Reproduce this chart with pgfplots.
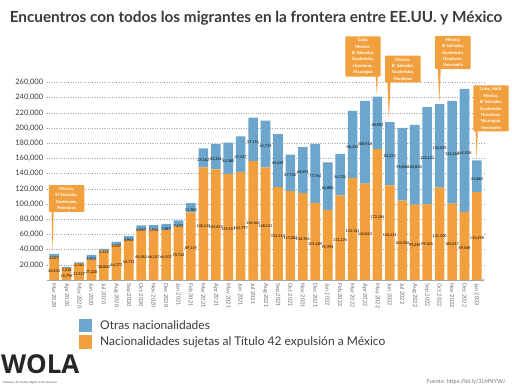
\documentclass[border=0pt]{standalone}
\usepackage{pgfplots}
\usepackage{pgfplotstable}
\pgfplotsset{compat=1.18}
\usepackage{fontspec}
\setmainfont{Lato}
\newfontfamily\logofont{Open Sans}
\definecolor{barblue}{HTML}{6CA6CD}
\definecolor{barorange}{HTML}{F2A03D}
\definecolor{txt}{HTML}{3A3A3A}

\pgfplotstableread{
x orange blue
0 30433 4027
1 15796 1310
2 21927 1310
3 27228 5821
4 38800 2129
5 46377 3637
6 52711 4963
7 65862 6067
8 66157 5956
9 66107 7887
10 70742 7672
11 89119 11980
12 148115 25162
13 145459 33336
14 139517 41080
15 141797 47237
16 156442 57151
17 148121 61719
18 122314 69687
19 117082 47755
20 114354 60491
21 101489 77764
22 91994 62880
23 111276 54734
24 134141 88433
25 126867 108918
26 172184 68952
27 124611 83223
28 104356 95806
29 99249 104838
30 99425 128122
31 121500 110029
32 100517 135268
33 89549 161938
34 115498 41860
}\data

\tikzset{callout/.style={fill=barorange, text=white, font=\fontsize{4.3}{6.4}\selectfont\bfseries, align=center, minimum width=32pt, text width=31pt, inner sep=2.2pt, rounded corners=0.8pt}}

\begin{document}
\begin{tikzpicture}[x=1pt,y=1pt]
\useasboundingbox (0,0) rectangle (512,384);
\node[text=txt, font=\fontsize{15.3}{17}\selectfont\bfseries] at (256,366) {Encuentros con todos los migrantes en la frontera entre EE.UU. y México};
\begin{axis}[
  at={(46.7pt,104pt)}, anchor=south west,
  scale only axis, width=438.3pt, height=205.2pt,
  ybar stacked, bar width=9.6pt,
  xmin=-0.6, xmax=34.65, ymin=0, ymax=270000,
  axis lines=left, axis line style={draw=none},
  x axis line style={draw=gray!70, line width=0.4pt},
  major tick length=0pt,
  ytick={20000,40000,...,260000},
  ymajorgrids, grid style={dotted, gray!70, line width=0.5pt},
  scaled y ticks=false,
  /pgf/number format/.cd, 1000 sep={,}, fixed, precision=0, assume math mode=true,
  /pgfplots/.cd,
  yticklabel style={font=\fontsize{7.5}{8}\selectfont, text=txt},
  xtick={0,...,34},
  xticklabels={Mar 2020,Apr 2020,May 2020,Jun 2020,Jul 2020,Aug 2020,Sep 2020,Oct 2020,Nov 2020,Dec 2020,Jan 2021,Feb 2021,Mar 2021,Apr 2021,May 2021,Jun 2021,Jul 2021,Aug 2021,Sep 2021,Oct 2021,Nov 2021,Dec 2021,Jan 2022,Feb 2022,Mar 2022,Apr 2022,May 2022,Jun 2022,Jul 2022,Aug 2022,Sep 2022,Oct 2022,Nov 2022,Dec 2022,Jan 2023},
  xticklabel style={rotate=-90, anchor=west, font=\fontsize{5.5}{6}\selectfont, text=gray!80!black},
  nodes near coords,
  every node near coord/.append style={font=\fontsize{3.8}{4}\selectfont, text=black, anchor=center, yshift=-2.6pt},
  clip=false,
]
\addplot[fill=barorange, draw=none] table[x=x,y=orange]{\data};
\addplot[fill=barblue, draw=none] table[x=x,y=blue]{\data};

% callouts
\fill[barorange] (axis cs:-0.25,112000) -- (axis cs:0.0,112000) -- (axis cs:-0.13,36500) -- cycle;
\node[callout] at (axis cs:1.0,107200) {Mexico,\\El Salvador,\\Guatemala,\\Honduras};

\fill[barorange] (axis cs:25.75,295000) -- (axis cs:26.1,295000) -- (axis cs:25.95,243500) -- cycle;
\node[callout] at (axis cs:24.84,294000) {Cuba,\\Mexico,\\El Salvador,\\Guatemala,\\Honduras,\\Nicaragua};

\fill[barorange] (axis cs:26.75,280000) -- (axis cs:27.1,280000) -- (axis cs:26.92,210000) -- cycle;
\node[callout] at (axis cs:28.05,277600) {Mexico,\\El Salvador,\\Guatemala,\\Honduras};

\fill[barorange] (axis cs:30.8,300000) -- (axis cs:31.15,300000) -- (axis cs:30.98,234000) -- cycle;
\node[callout] at (axis cs:32.07,299300) {Mexico,\\El Salvador,\\Guatemala,\\Honduras,\\Venezuela};

\fill[barorange] (axis cs:33.8,230000) -- (axis cs:34.15,230000) -- (axis cs:33.98,160000) -- cycle;
\node[callout] at (axis cs:35.13,225700) {Cuba, Haiti,\\Mexico,\\El Salvador,\\Guatemala,\\Honduras,\\Nicaragua,\\Venezuela};
\end{axis}

% legend
\fill[barblue] (79,52) rectangle (92,65);
\node[anchor=west, text=txt, font=\fontsize{12}{14}\selectfont, inner sep=0pt] at (100,59) {Otras nacionalidades};
\fill[barorange] (79,35) rectangle (92,49);
\node[anchor=west, text=txt, font=\fontsize{12}{14}\selectfont, inner sep=0pt] at (100,42) {Nacionalidades sujetas al Título 42 expulsión a México};

% logo and source
\node[anchor=base west, inner sep=0pt, font=\logofont\fontsize{26}{27}\selectfont\bfseries, text=black!85] at (1,11) {WOLA};
\node[anchor=base west, inner sep=0pt, font=\fontsize{2.8}{3}\selectfont, text=black!70] at (3,1) {Advocacy for Human Rights in the Americas};
\node[anchor=east, inner sep=0pt, font=\fontsize{5.5}{6}\selectfont, text=gray!90!black] at (505,2.5) {Fuente: https://bit.ly/3LMNYWJ};
\end{tikzpicture}
\end{document}
